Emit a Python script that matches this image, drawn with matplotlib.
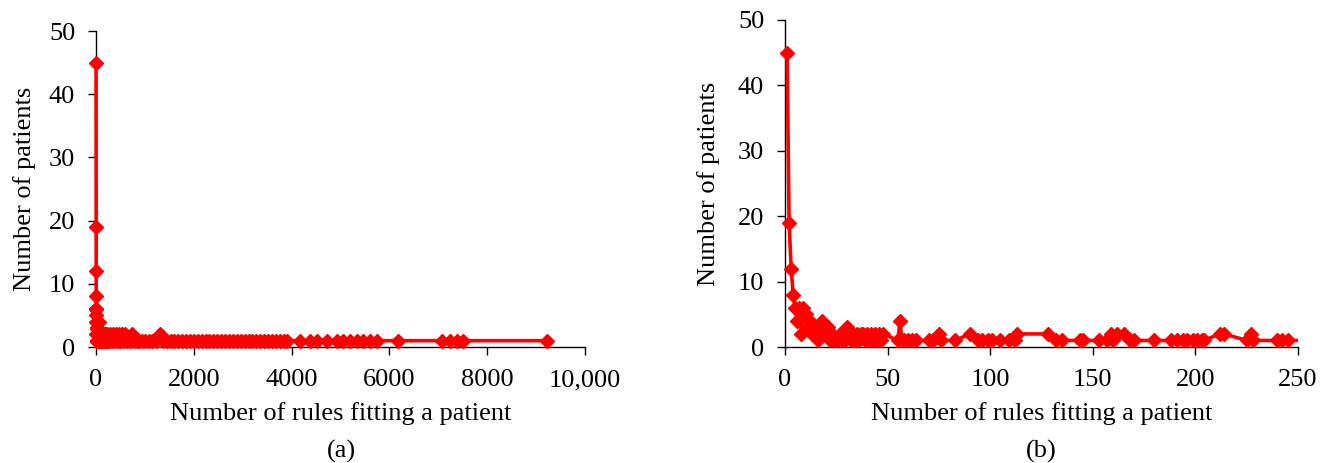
import matplotlib
matplotlib.use('Agg')
import matplotlib.pyplot as plt
from matplotlib.transforms import Bbox, TransformedBbox

plt.rcParams['font.family'] = ['Liberation Serif', 'DejaVu Serif']
plt.rcParams['font.size'] = 19

# number of rules fitting a patient -> number of patients with that count
rules = [1, 2, 3, 4, 5, 6, 7, 8, 9, 10, 11, 12, 13, 14, 15, 16, 17, 18, 19, 20,
         21, 22, 23, 24, 25, 26, 27, 28, 29, 30, 31, 32, 33, 34, 35, 36, 37, 38, 39, 40,
         41, 42, 43, 44, 45, 46, 47, 48, 55, 56, 57, 58, 60, 62, 64, 70, 72, 75, 76, 83,
         90, 94, 96, 99, 101, 105, 109, 112, 113, 128, 132, 135, 144, 145, 153, 157, 159, 160, 162, 165,
         168, 170, 180, 188, 191, 194, 196, 199, 201, 203, 204, 212, 214, 225, 227, 228, 240, 242, 245,
         260, 290, 320, 350, 380, 410, 440, 470, 500, 530, 560, 600, 640, 690, 730, 780, 830, 880, 950,
         1010, 1080, 1150, 1220, 1309, 1380, 1450, 1530, 1600, 1680, 1760, 1840, 1920, 2000, 2080, 2160,
         2240, 2320, 2400, 2480, 2560, 2640, 2720, 2800, 2880, 2960, 3040, 3120, 3200, 3280, 3360, 3440,
         3520, 3600, 3680, 3760, 3850, 3906, 4172, 4376, 4519, 4720, 4929, 5050, 5190, 5337, 5460, 5600,
         5750, 6176, 7075, 7240, 7380, 7500, 9220]
patients = [45, 19, 12, 8, 6, 4, 6, 2, 6, 5, 3, 4, 2, 3, 2, 1, 3, 4, 3, 2,
            3, 1, 2, 1, 1, 1, 2, 1, 1, 3, 2, 1, 2, 1, 2, 1, 2, 2, 1, 2,
            1, 2, 1, 2, 1, 2, 1, 2, 1, 4, 1, 1, 1, 1, 1, 1, 1, 2, 1, 1,
            2, 1, 1, 1, 1, 1, 1, 1, 2, 2, 1, 1, 1, 1, 1, 1, 2, 1, 2, 2,
            1, 1, 1, 1, 1, 1, 1, 1, 1, 1, 1, 2, 2, 1, 2, 1, 1, 1, 1,
            1, 2, 1, 2, 1, 2, 1, 2, 1, 2, 1, 2, 1, 1, 2, 1, 1, 1, 1,
            1, 1, 1, 1, 2, 1, 1, 1, 1, 1, 1, 1, 1, 1, 1, 1,
            1, 1, 1, 1, 1, 1, 1, 1, 1, 1, 1, 1, 1, 1, 1, 1,
            1, 1, 1, 1, 1, 1, 1, 1, 1, 1, 1, 1, 1, 1, 1, 1,
            1, 1, 1, 1, 1, 1, 1]

ticks_a = [0, 2000, 4000, 6000, 8000, 10000]
ticklabels_a = ['0', '2000', '4000', '6000', '8000', '10,000']
ticks_b = [0, 50, 100, 150, 200, 250]
yticks = [0, 10, 20, 30, 40, 50]

W, H = 1327, 463
fig = plt.figure(figsize=(W / 100, H / 100), dpi=100)
ax1 = fig.add_axes([96 / W, 1 - 347 / H, 489 / W, 316 / H])
ax2 = fig.add_axes([785 / W, 1 - 347 / H, 513 / W, 327 / H])


def style(ax, ypad):
    for s in ['top', 'right']:
        ax.spines[s].set_visible(False)
    ax.spines['left'].set_linewidth(1.0)
    ax.spines['bottom'].set_linewidth(1.0)
    ax.tick_params(axis='both', direction='out', length=6, width=1.0, labelsize=19)
    ax.tick_params(axis='y', pad=9)
    ax.tick_params(axis='x', pad=10)
    ax.set_ylim(0, 50)
    ax.set_yticks(yticks)
    ax.set_ylabel('Number of patients', fontsize=19, labelpad=ypad)
    ax.set_xlabel('Number of rules fitting a patient', fontsize=19, labelpad=8)


# (a) full range
ax1.plot(rules, patients, color='#ff0000', lw=2.6, marker='D', ms=7.5,
         mec='#ff0000', clip_on=False, zorder=3)
ax1.set_xlim(0, 10000)
ax1.set_xticks(ticks_a)
ax1.set_xticklabels(ticklabels_a)
style(ax1, 9)

# (b) zoom on 0-250
ln, = ax2.plot(rules, patients, color='#ff0000', lw=2.6, marker='D', ms=7.5,
               mec='#ff0000', zorder=3)
ax2.set_xlim(0, 250)
ax2.set_xticks(ticks_b)
style(ax2, 13)
ln.set_clip_box(TransformedBbox(Bbox([[-20, -5], [250, 60]]), ax2.transData))

fig.text(341 / W, 1 - 451 / H, '(a)', ha='center', va='center', fontsize=19)
fig.text(1041 / W, 1 - 451 / H, '(b)', ha='center', va='center', fontsize=19)

fig.savefig('out.png', dpi=100)
